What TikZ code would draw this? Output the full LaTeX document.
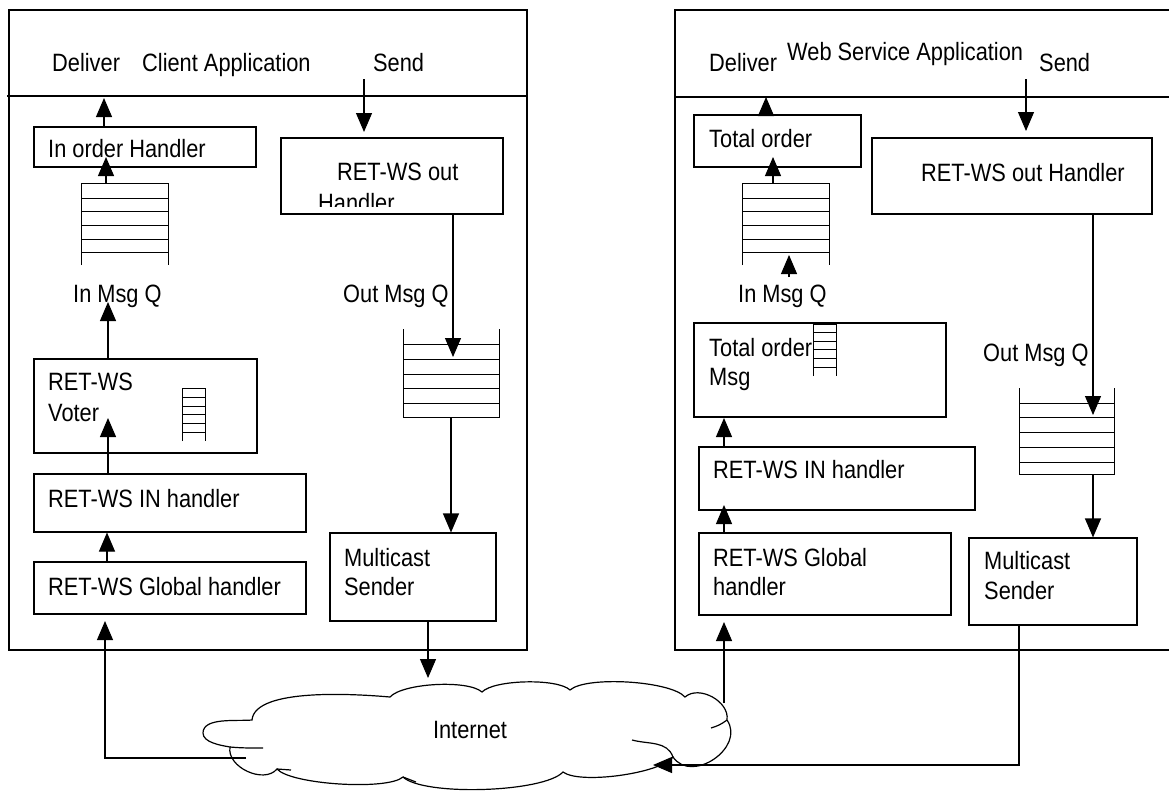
\documentclass[tikz,border=0pt]{standalone}
\usepackage{fontspec}
\setmainfont{Liberation Sans}
\usepackage{graphicx}
\usetikzlibrary{arrows.meta,fit}
\newcommand\tx[1]{\scalebox{1}[1.15]{#1}}
\begin{document}
\begin{tikzpicture}[x=1pt,y=-1pt,
  box/.style={draw, line width=1.1pt, inner sep=0pt, fit={#1}},
  lbl/.style={anchor=base west, inner sep=0pt, font=\fontsize{21.8}{26}\selectfont},
  arr/.style={line width=1.1pt, -{Triangle[length=19pt,width=16pt]}},
  qline/.style={line width=1pt},
  frame/.style={line width=1.1pt},
  cloudline/.style={line width=1.2pt}]
\clip (0,0) rectangle (1169,792);
\fill[white] (0,0) rectangle (1169,792);

% ===== Left panel =====
\draw[frame] (9,10) rectangle (527,650);
\draw[frame] (7,96) -- (527,96);
\node[lbl] (tDelL) at (52,71) {\tx{Deliver}};
\node[lbl] (tClient) at (142,71) {\tx{Client Application}};
\node[lbl] (tSendL) at (373,71) {\tx{Send}};

\node[box={(34,127) (256,167)}] (inordL) {};
\node[lbl] (tInord) at (48,157) {\tx{In order Handler}};
\node[box={(281,138) (503,214)}] (outhL) {};
\node[lbl] (tOutL1) at (337,180) {\tx{RET-WS out}};
\begin{scope}
\clip (281,138) rectangle (503,206);
\node[lbl] (tOutL2) at (318,211) {\tx{Handler}};
\end{scope}

% in queue left
\draw[qline] (81,265) -- (81,183) -- (168,183) -- (168,265);
\foreach \y in {198,211,225,239,252} \draw[qline] (81,\y) -- (168,\y);
\node[lbl] (tInQL) at (73,302) {\tx{In Msg Q}};
\node[lbl] (tOutQL) at (343,302) {\tx{Out Msg Q}};

\node[box={(34,359) (257,453)}] (voter) {};
\node[lbl] (tVot1) at (48,390) {\tx{RET-WS}};
\node[lbl] (tVot2) at (48,421) {\tx{Voter}};
\draw[qline] (182,441) -- (182,388) -- (205,388) -- (205,441);
\foreach \y in {397,406,414,423,432} \draw[qline] (182,\y) -- (205,\y);

\node[box={(34,474) (306,532)}] (inhL) {};
\node[lbl] (tInhL) at (48,507) {\tx{RET-WS IN handler}};
\node[box={(34,562) (306,614)}] (globL) {};
\node[lbl] (tGlobL) at (48,595) {\tx{RET-WS Global handler}};

% out queue left
\draw[qline] (403,329) -- (403,417) -- (499,417) -- (499,329);
\foreach \y in {344,359,374,388,403} \draw[qline] (403,\y) -- (499,\y);

\node[box={(330,533) (496,621)}] (mcL) {};
\node[lbl] (tMcL1) at (344,566) {\tx{Multicast}};
\node[lbl] (tMcL2) at (344,595) {\tx{Sender}};

% ===== Right panel =====
\draw[frame] (675,10) rectangle (1185,650);
\draw[frame] (675,97) -- (1185,97);
\node[lbl] (tDelR) at (709,71) {\tx{Deliver}};
\node[lbl] (tWeb) at (787,60) {\tx{Web Service Application}};
\node[lbl] (tSendR) at (1039,71) {\tx{Send}};

\node[box={(694,115) (861,167)}] (totR) {};
\node[lbl] (tTot) at (709,147) {\tx{Total order}};
\node[box={(872,138) (1152,214)}] (outhR) {};
\node[lbl] (tOutR) at (921,181) {\tx{RET-WS out Handler}};

% in queue right
\draw[qline] (742,265) -- (742,183) -- (829,183) -- (829,265);
\foreach \y in {198,211,225,239,252} \draw[qline] (742,\y) -- (829,\y);
\node[lbl] (tInQR) at (738,302) {\tx{In Msg Q}};

\node[box={(694,323) (946,417)}] (totmsg) {};
\node[lbl] (tTm1) at (709,356) {\tx{Total order}};
\node[lbl] (tTm2) at (709,385) {\tx{Msg}};
\draw[qline] (813,376) -- (813,324) -- (836,324) -- (836,376);
\foreach \y in {332,341,349,358,367} \draw[qline] (813,\y) -- (836,\y);

\node[lbl] (tOutQR) at (983,361) {\tx{Out Msg Q}};
\draw[qline] (1019,388) -- (1019,474) -- (1114,474) -- (1114,388);
\foreach \y in {403,417,432,447,462} \draw[qline] (1019,\y) -- (1114,\y);

\node[box={(699,447) (975,510)}] (inhR) {};
\node[lbl] (tInhR) at (713,478) {\tx{RET-WS IN handler}};
\node[box={(699,533) (951,615)}] (globR) {};
\node[lbl] (tGlobR1) at (713,566) {\tx{RET-WS Global}};
\node[lbl] (tGlobR2) at (713,595) {\tx{handler}};

\node[box={(969,538) (1137,625)}] (mcR) {};
\node[lbl] (tMcR1) at (984,569) {\tx{Multicast}};
\node[lbl] (tMcR2) at (984,599) {\tx{Sender}};

% ===== Cloud (Internet) =====
\draw[cloudline, fill=white]
  (252,720) to[out=85,in=175,looseness=0.6] (390,697)
  to[bend left=45,looseness=0.52] (482,692)
  to[bend left=45,looseness=0.5] (570,690)
  to[bend left=45,looseness=0.48] (685,697)
  to[bend left=70] (727,720)
  to[bend left=90,looseness=1.3] (673,757)
  to[bend left=45,looseness=0.48] (563,772)
  to[bend left=45,looseness=0.45] (403,777)
  to[bend left=45,looseness=0.42] (277,769)
  to[bend left=75] (230,747)
  to[out=170,in=270,looseness=0.8] (203,733)
  to[out=90,in=185,looseness=0.8] cycle;
% inner hooks of the cloud
\draw[cloudline] (230,747) to[out=-5,in=180] (263,748);
\draw[cloudline] (277,769) -- (291,770);
\draw[cloudline] (403,777) -- (416,782);
\draw[cloudline] (727,720) to[bend left=10] (711,728);
\draw[cloudline] (632,740) to[out=-15,in=110] (673,757);
\coordinate (net) at (470,736);
\node[anchor=center, inner sep=0pt, font=\fontsize{21.8}{26}\selectfont] (tNet) at (470,730) {\tx{Internet}};

% ===== Coordinates for connector ends =====
\coordinate (sendLs) at (364,79);
\coordinate (sendLe) at (364,132);
\coordinate (delLe) at (104,98);
\coordinate (qInLtop) at (106,183);
\coordinate (qInLtip) at (106,157);
\coordinate (inqLabL) at (108,302);
\coordinate (votTip) at (108,418);
\coordinate (qOutLtip) at (453,357);
\coordinate (qOutLbot) at (451,417);
\coordinate (mcLtip) at (428,678);
\coordinate (netL) at (246,758);
\coordinate (globLtip) at (105,621);

\coordinate (sendRs) at (1026,79);
\coordinate (sendRe) at (1026,131);
\coordinate (delRe) at (766,97);
\coordinate (qInRtop) at (773,183);
\coordinate (qInRtip) at (773,157);
\coordinate (inqRs) at (789,277);
\coordinate (inqRe) at (789,255);
\coordinate (tmTip) at (724,418);
\coordinate (inhRtip) at (724,505);
\coordinate (netR) at (724,703);
\coordinate (globRtip) at (724,622);
\coordinate (qOutRtip) at (1093,415);
\coordinate (qOutRbot) at (1093,474);
\coordinate (netRin) at (653,765);

% ===== Connectors left =====
\draw[arr] (sendLs) -- (sendLe);
\draw[arr] (delLe |- inordL.north) -- (delLe);
\draw[arr] (qInLtop) -- (qInLtip);
\draw[arr] (inqLabL |- voter.north) -- (inqLabL);
\draw[arr] (votTip |- inhL.north) -- (votTip);
\draw[arr] (107,0 |- globL.north) -- (107,0 |- inhL.south);
\draw[arr] (qOutLtip |- outhL.south) -- (qOutLtip);
\draw[arr] (qOutLbot) -- (qOutLbot |- mcL.north);
\draw[arr] (mcLtip |- mcL.south) -- (mcLtip);
\draw[arr] (netL) -| (globLtip);

% ===== Connectors right =====
\draw[arr] (sendRs) -- (sendRe);
\draw[arr] (delRe |- totR.north) -- (delRe);
\draw[arr] (qInRtop) -- (qInRtip);
\draw[arr] (inqRs) -- (inqRe);
\draw[arr] (tmTip |- inhR.north) -- (tmTip);
\draw[arr] (inhRtip |- globR.north) -- (inhRtip);
\draw[arr] (netR) -- (globRtip);
\draw[arr] (qOutRtip |- outhR.south) -- (qOutRtip);
\draw[arr] (qOutRbot) -- (qOutRbot |- mcR.north);
\draw[arr] (1019,0 |- mcR.south) |- (netRin);
\end{tikzpicture}
\end{document}
